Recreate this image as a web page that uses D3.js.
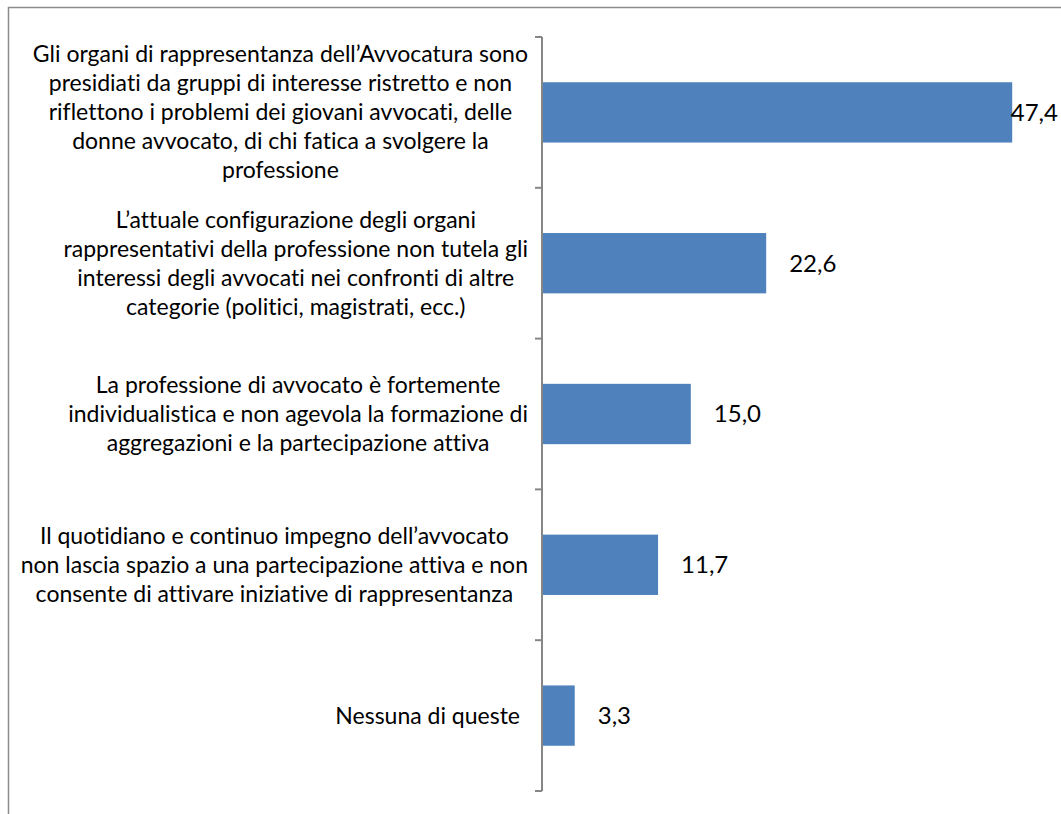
<!DOCTYPE html>
<html>
<head>
<meta charset="utf-8">
<script src="https://cdn.jsdelivr.net/npm/d3@7"></script>
<style>
  html, body { margin: 0; padding: 0; background: #fff; }
  svg { display: block; }
  text { font-family: Lato, "Open Sans", sans-serif; fill: #000; font-variant-ligatures: none; font-feature-settings: "liga" 0; }
</style>
</head>
<body>
<svg id="chart" width="1061" height="814"></svg>
<script>
// ---- data ----
const categories = [
  "Gli organi di rappresentanza dell’Avvocatura sono presidiati da gruppi di interesse ristretto e non riflettono i problemi dei giovani avvocati, delle donne avvocato, di chi fatica a svolgere la professione",
  "L’attuale configurazione degli organi rappresentativi della professione non tutela gli interessi degli avvocati nei confronti di altre categorie (politici, magistrati, ecc.)",
  "La professione di avvocato è fortemente individualistica e non agevola la formazione di aggregazioni e la partecipazione attiva",
  "Il quotidiano e continuo impegno dell’avvocato non lascia spazio a una partecipazione attiva e non consente di attivare iniziative di rappresentanza",
  "Nessuna di queste"
];
const categoryLines = [
  ["Gli organi di rappresentanza dell’Avvocatura sono", "presidiati da gruppi di interesse ristretto e non", "riflettono i problemi dei giovani avvocati, delle", "donne avvocato, di chi fatica a svolgere la", "professione"],
  ["L’attuale configurazione degli organi", "rappresentativi della professione non tutela gli", "interessi degli avvocati nei confronti di altre", "categorie (politici, magistrati, ecc.)"],
  ["La professione di avvocato è fortemente", "individualistica e non agevola la formazione di", "aggregazioni e la partecipazione attiva"],
  ["Il quotidiano e continuo impegno dell’avvocato", "non lascia spazio a una partecipazione attiva e non", "consente di attivare iniziative di rappresentanza"],
  ["Nessuna di queste"]
];
const values = [47.4, 22.6, 15.0, 11.7, 3.3];
const valueLabels = ["47,4", "22,6", "15,0", "11,7", "3,3"];
const xDomain = [0, 50];

// ---- layout ----
const W = 1061, H = 814;
const axisX = 542, plotRight = 1038, plotTop = 37, plotBottom = 791;
const svg = d3.select("#chart");

// outer frame (chart area border)
svg.append("rect")
  .attr("x", 8.5).attr("y", 7.5)
  .attr("width", W + 20).attr("height", H + 20)
  .attr("fill", "none").attr("stroke", "#8c8c8c").attr("stroke-width", 1.5);

const x = d3.scaleLinear().domain(xDomain).range([axisX, plotRight]);
const y = d3.scaleBand().domain(categories).range([plotTop, plotBottom])
  .paddingInner(0.6).paddingOuter(0.3);
const step = y.step();

// bars
svg.selectAll("rect.bar").data(values).join("rect")
  .attr("class", "bar")
  .attr("x", x(0))
  .attr("y", (d, i) => y(categories[i]))
  .attr("width", d => x(d) - x(0))
  .attr("height", y.bandwidth())
  .attr("fill", "#4F81BD");

// category axis (line + ticks between categories)
const axisG = svg.append("g");
axisG.append("line")
  .attr("x1", axisX).attr("x2", axisX)
  .attr("y1", plotTop).attr("y2", plotBottom)
  .attr("stroke", "#868686").attr("stroke-width", 2);
const tickYs = categories.map(c => y(c) - step * 0.3).concat([plotBottom]);
axisG.selectAll("line.tick").data(tickYs).join("line")
  .attr("class", "tick")
  .attr("x1", axisX - 7).attr("x2", axisX)
  .attr("y1", d => d).attr("y2", d => d)
  .attr("stroke", "#868686").attr("stroke-width", 2);

// category labels
const lineH = 29;
categories.forEach((c, i) => {
  const lines = categoryLines[i];
  const labelRight = lines.length > 1 ? axisX - 14 : axisX - 22;
  const cy = y(c) + y.bandwidth() / 2;
  const g = svg.append("g");
  const texts = g.selectAll("text").data(lines).join("text")
    .attr("font-size", 23)
    .attr("text-anchor", "middle")
    .attr("y", (d, j) => cy + (j - (lines.length - 1) / 2) * lineH)
    .attr("dy", "0.35em")
    .text(d => d);
  let maxW = 0;
  texts.each(function () { maxW = Math.max(maxW, this.getComputedTextLength()); });
  texts.attr("x", labelRight - maxW / 2);
});

// value labels
values.forEach((v, i) => {
  const t = svg.append("text")
    .attr("font-size", 24)
    .attr("y", y(categories[i]) + y.bandwidth() / 2)
    .attr("dy", "0.35em")
    .text(valueLabels[i]);
  const tw = t.node().getComputedTextLength();
  t.attr("x", Math.min(x(v) + 23, W - 3 - tw));
});
</script>
</body>
</html>
